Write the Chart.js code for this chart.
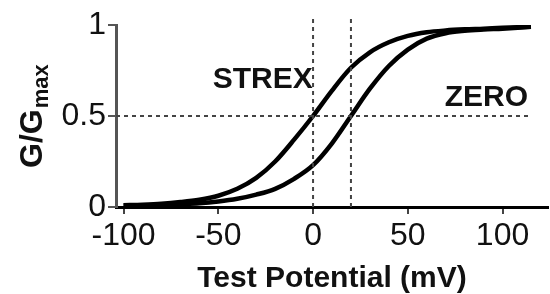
<!DOCTYPE html>
<html>
<head>
<meta charset="utf-8">
<script src="https://cdn.jsdelivr.net/npm/chart.js@4/dist/chart.umd.min.js"></script>
<style>
  html, body { margin: 0; padding: 0; background: #fff; }
  #wrap { position: relative; width: 550px; height: 294px; }
</style>
</head>
<body>
<div id="wrap"><canvas id="gvChart"></canvas></div>
<script>
// test potentials (mV) and normalised conductance
const potentials = [-100, -90, -80, -70, -60, -50, -40, -30, -20, -10, 0, 10, 20, 30, 40, 50, 60, 70, 80, 90, 100, 115];
const strexG = [0.01, 0.013, 0.018, 0.027, 0.04, 0.062, 0.10, 0.16, 0.25, 0.37, 0.50, 0.64, 0.765, 0.85, 0.905, 0.94, 0.96, 0.97, 0.976, 0.98, 0.985, 0.99];
const zeroG = [0.008, 0.009, 0.011, 0.015, 0.02, 0.03, 0.045, 0.068, 0.10, 0.155, 0.23, 0.35, 0.50, 0.65, 0.775, 0.865, 0.925, 0.955, 0.968, 0.975, 0.98, 0.99];

// half-activation guide lines
const halfX = [-104, 115];
const halfY = [0.5, 0.5];
const strexHalfX = [0, 0];
const zeroHalfX = [20, 20];
const guideY = [0, 1.04];

const xTicks = [-100, -50, 0, 50, 100];
const yTicks = [0, 0.5, 1];
const yTickLabels = ["0", "0.5", "1"];

function pts(xs, ys) {
  return xs.map((x, i) => ({ x: x, y: ys[i] }));
}

const labelFont = "'Liberation Sans', Arial, sans-serif";

const guideStyle = {
  borderColor: "#444",
  borderWidth: 2,
  borderDash: [4, 4],
  pointRadius: 0,
  fill: false,
  clip: false,
};

// curve labels and the G/Gmax axis title
const textPlugin = {
  id: "figText",
  afterDraw(chart) {
    const ctx = chart.ctx;
    const xs = chart.scales.x;
    const ys = chart.scales.y;
    ctx.save();
    ctx.fillStyle = "#111";
    ctx.textBaseline = "middle";
    ctx.textAlign = "left";
    ctx.font = "bold 30px " + labelFont;
    ctx.fillText("STREX", xs.getPixelForValue(-53), ys.getPixelForValue(0.70));
    ctx.fillText("ZERO", xs.getPixelForValue(69.5), ys.getPixelForValue(0.60));

    ctx.translate(42, 168);
    ctx.rotate(-Math.PI / 2);
    ctx.textBaseline = "alphabetic";
    ctx.font = "bold 32px " + labelFont;
    ctx.fillText("G/G", 0, 0);
    const w = ctx.measureText("G/G").width;
    ctx.font = "bold 22px " + labelFont;
    ctx.fillText("max", w + 1, 6);
    ctx.restore();
  },
};

document.addEventListener("DOMContentLoaded", function () {
  const ctx = document.getElementById("gvChart").getContext("2d");

  new Chart(ctx, {
    type: "line",
    data: {
      datasets: [
        Object.assign({ label: "half", data: pts(halfX, halfY) }, guideStyle),
        Object.assign({ label: "strexHalf", data: pts(strexHalfX, guideY) }, guideStyle),
        Object.assign({ label: "zeroHalf", data: pts(zeroHalfX, guideY) }, guideStyle),
        {
          label: "STREX",
          data: pts(potentials, strexG),
          borderColor: "#000",
          borderWidth: 4.5,
          pointRadius: 0,
          cubicInterpolationMode: "monotone",
          fill: false,
        },
        {
          label: "ZERO",
          data: pts(potentials, zeroG),
          borderColor: "#000",
          borderWidth: 4.5,
          pointRadius: 0,
          cubicInterpolationMode: "monotone",
          fill: false,
        },
      ],
    },
    options: {
      responsive: true,
      maintainAspectRatio: false,
      animation: false,
      layout: { padding: { top: 25, right: 2, left: 0, bottom: 0 } },
      scales: {
        x: {
          type: "linear",
          min: -104,
          max: 124,
          afterBuildTicks: (s) => { s.ticks = xTicks.map((v) => ({ value: v })); },
          afterFit: (s) => { s.height = 87; },
          border: { color: "#000", width: 3 },
          grid: { drawOnChartArea: false, color: "#444", tickLength: 7, lineWidth: 2 },
          ticks: {
            color: "#111",
            padding: 6,
            maxRotation: 0,
            font: { family: labelFont, size: 32, lineHeight: 1 },
          },
          title: {
            display: true,
            text: "Test Potential (mV)",
            color: "#111",
            padding: 0,
            font: { family: labelFont, size: 30, weight: "bold", lineHeight: 1 },
          },
        },
        y: {
          type: "linear",
          min: 0,
          max: 1,
          afterBuildTicks: (s) => { s.ticks = yTicks.map((v) => ({ value: v })); },
          afterFit: (s) => { s.width = 116; },
          border: { color: "#555", width: 3 },
          grid: { drawOnChartArea: false, color: "#555", tickLength: 8, lineWidth: 2 },
          ticks: {
            color: "#111",
            padding: 2,
            font: { family: labelFont, size: 32, lineHeight: 1 },
            callback: (v) => yTickLabels[yTicks.indexOf(v)],
          },
        },
      },
      plugins: {
        legend: { display: false },
        tooltip: { enabled: false },
      },
    },
    plugins: [textPlugin],
  });
});
</script>
</body>
</html>
